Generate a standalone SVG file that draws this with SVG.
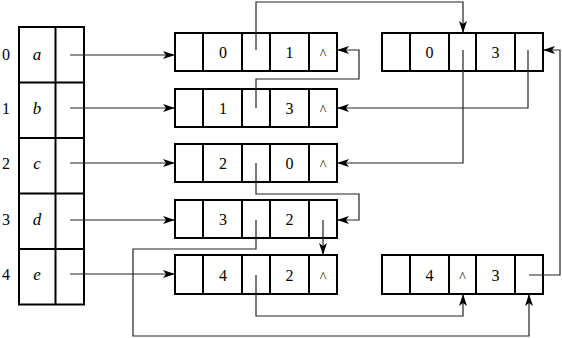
<svg xmlns="http://www.w3.org/2000/svg" width="562" height="338" viewBox="0 0 562 338">
<defs>
<marker id="ah" markerUnits="userSpaceOnUse" markerWidth="13" markerHeight="9" refX="12" refY="4" orient="auto">
<path d="M0,0 L12,4 L0,8 L3,4 z" fill="#000"/>
</marker>
<style>
.box{fill:#fff;stroke:#000;stroke-width:2}
.div{stroke:#000;stroke-width:2}
.num{font-size:16px;text-anchor:middle;fill:#000}
.let{font-size:17px;font-style:italic;text-anchor:middle;fill:#000}
.nil{font-size:14px;text-anchor:middle;fill:#000}
.con{fill:none;stroke:#222;stroke-width:1.2}
.arr{marker-end:url(#ah)}
</style>
</defs>
<rect width="562" height="338" fill="#fff"/>
<g font-family="Liberation Serif, DejaVu Serif, serif">
<g id="table">
<rect class="box" x="19" y="27" width="65" height="277.5"/>
<line class="div" x1="55.5" y1="27" x2="55.5" y2="304.5"/>
<line class="div" x1="19" y1="82.5" x2="84" y2="82.5"/>
<line class="div" x1="19" y1="138" x2="84" y2="138"/>
<line class="div" x1="19" y1="193.5" x2="84" y2="193.5"/>
<line class="div" x1="19" y1="249" x2="84" y2="249"/>
<text class="num" x="6" y="60">0</text>
<text class="num" x="6" y="114">1</text>
<text class="num" x="6" y="169">2</text>
<text class="num" x="6" y="225">3</text>
<text class="num" x="6" y="280">4</text>
<text class="let" x="37" y="60">a</text>
<text class="let" x="37" y="114">b</text>
<text class="let" x="37" y="169">c</text>
<text class="let" x="37" y="225">d</text>
<text class="let" x="37" y="280">e</text>
</g>

<g id="n0">
<rect class="box" x="175" y="33" width="162" height="38"/>
<line class="div" x1="203" y1="33" x2="203" y2="71"/>
<line class="div" x1="242" y1="33" x2="242" y2="71"/>
<line class="div" x1="270" y1="33" x2="270" y2="71"/>
<line class="div" x1="309" y1="33" x2="309" y2="71"/>
<text class="num" x="223" y="58">0</text>
<text class="num" x="289.5" y="58">1</text>
<text class="nil" x="323" y="59">^</text>
</g>

<g id="n1">
<rect class="box" x="175" y="89" width="162" height="38"/>
<line class="div" x1="203" y1="89" x2="203" y2="127"/>
<line class="div" x1="242" y1="89" x2="242" y2="127"/>
<line class="div" x1="270" y1="89" x2="270" y2="127"/>
<line class="div" x1="309" y1="89" x2="309" y2="127"/>
<text class="num" x="223" y="114">1</text>
<text class="num" x="289.5" y="114">3</text>
<text class="nil" x="323" y="115">^</text>
</g>

<g id="n2">
<rect class="box" x="175" y="144" width="162" height="38"/>
<line class="div" x1="203" y1="144" x2="203" y2="182"/>
<line class="div" x1="242" y1="144" x2="242" y2="182"/>
<line class="div" x1="270" y1="144" x2="270" y2="182"/>
<line class="div" x1="309" y1="144" x2="309" y2="182"/>
<text class="num" x="223" y="169">2</text>
<text class="num" x="289.5" y="169">0</text>
<text class="nil" x="323" y="170">^</text>
</g>

<g id="n3">
<rect class="box" x="175" y="200" width="162" height="38"/>
<line class="div" x1="203" y1="200" x2="203" y2="238"/>
<line class="div" x1="242" y1="200" x2="242" y2="238"/>
<line class="div" x1="270" y1="200" x2="270" y2="238"/>
<line class="div" x1="309" y1="200" x2="309" y2="238"/>
<text class="num" x="223" y="225">3</text>
<text class="num" x="289.5" y="225">2</text>
</g>

<g id="n4">
<rect class="box" x="175" y="255" width="162" height="39"/>
<line class="div" x1="203" y1="255" x2="203" y2="294"/>
<line class="div" x1="242" y1="255" x2="242" y2="294"/>
<line class="div" x1="270" y1="255" x2="270" y2="294"/>
<line class="div" x1="309" y1="255" x2="309" y2="294"/>
<text class="num" x="223" y="281">4</text>
<text class="num" x="289.5" y="281">2</text>
<text class="nil" x="323" y="282">^</text>
</g>

<g id="r0">
<rect class="box" x="382" y="33" width="161" height="38"/>
<line class="div" x1="410" y1="33" x2="410" y2="71"/>
<line class="div" x1="449" y1="33" x2="449" y2="71"/>
<line class="div" x1="476" y1="33" x2="476" y2="71"/>
<line class="div" x1="515" y1="33" x2="515" y2="71"/>
<text class="num" x="429.5" y="58">0</text>
<text class="num" x="495.5" y="58">3</text>
</g>

<g id="r1">
<rect class="box" x="382" y="255" width="161" height="39"/>
<line class="div" x1="410" y1="255" x2="410" y2="294"/>
<line class="div" x1="449" y1="255" x2="449" y2="294"/>
<line class="div" x1="476" y1="255" x2="476" y2="294"/>
<line class="div" x1="515" y1="255" x2="515" y2="294"/>
<text class="num" x="429.5" y="281">4</text>
<text class="nil" x="462.5" y="282">^</text>
<text class="num" x="495.5" y="281">3</text>
</g>
</g>
<g id="connectors">
<path class="con arr" d="M70,55 H175"/>
<path class="con arr" d="M70,108 H175"/>
<path class="con arr" d="M70,163 H175"/>
<path class="con arr" d="M70,220 H175"/>
<path class="con arr" d="M70,274 H175"/>
<path class="con arr" d="M256,50 V2 H463 V33"/>
<path class="con arr" d="M256,108 V79 H359 V50 H337"/>
<path class="con arr" d="M463,50 V163 H337"/>
<path class="con arr" d="M528,50 V108 H337"/>
<path class="con arr" d="M256,163 V194 H359 V220 H337"/>
<path class="con arr" d="M323,220 V255"/>
<path class="con arr" d="M256,220 V249 H133 V336 H529 V294"/>
<path class="con arr" d="M256,275 V316 H463 V294"/>
<path class="con arr" d="M529,275 H560 V50 H543"/>
</g>
</svg>
